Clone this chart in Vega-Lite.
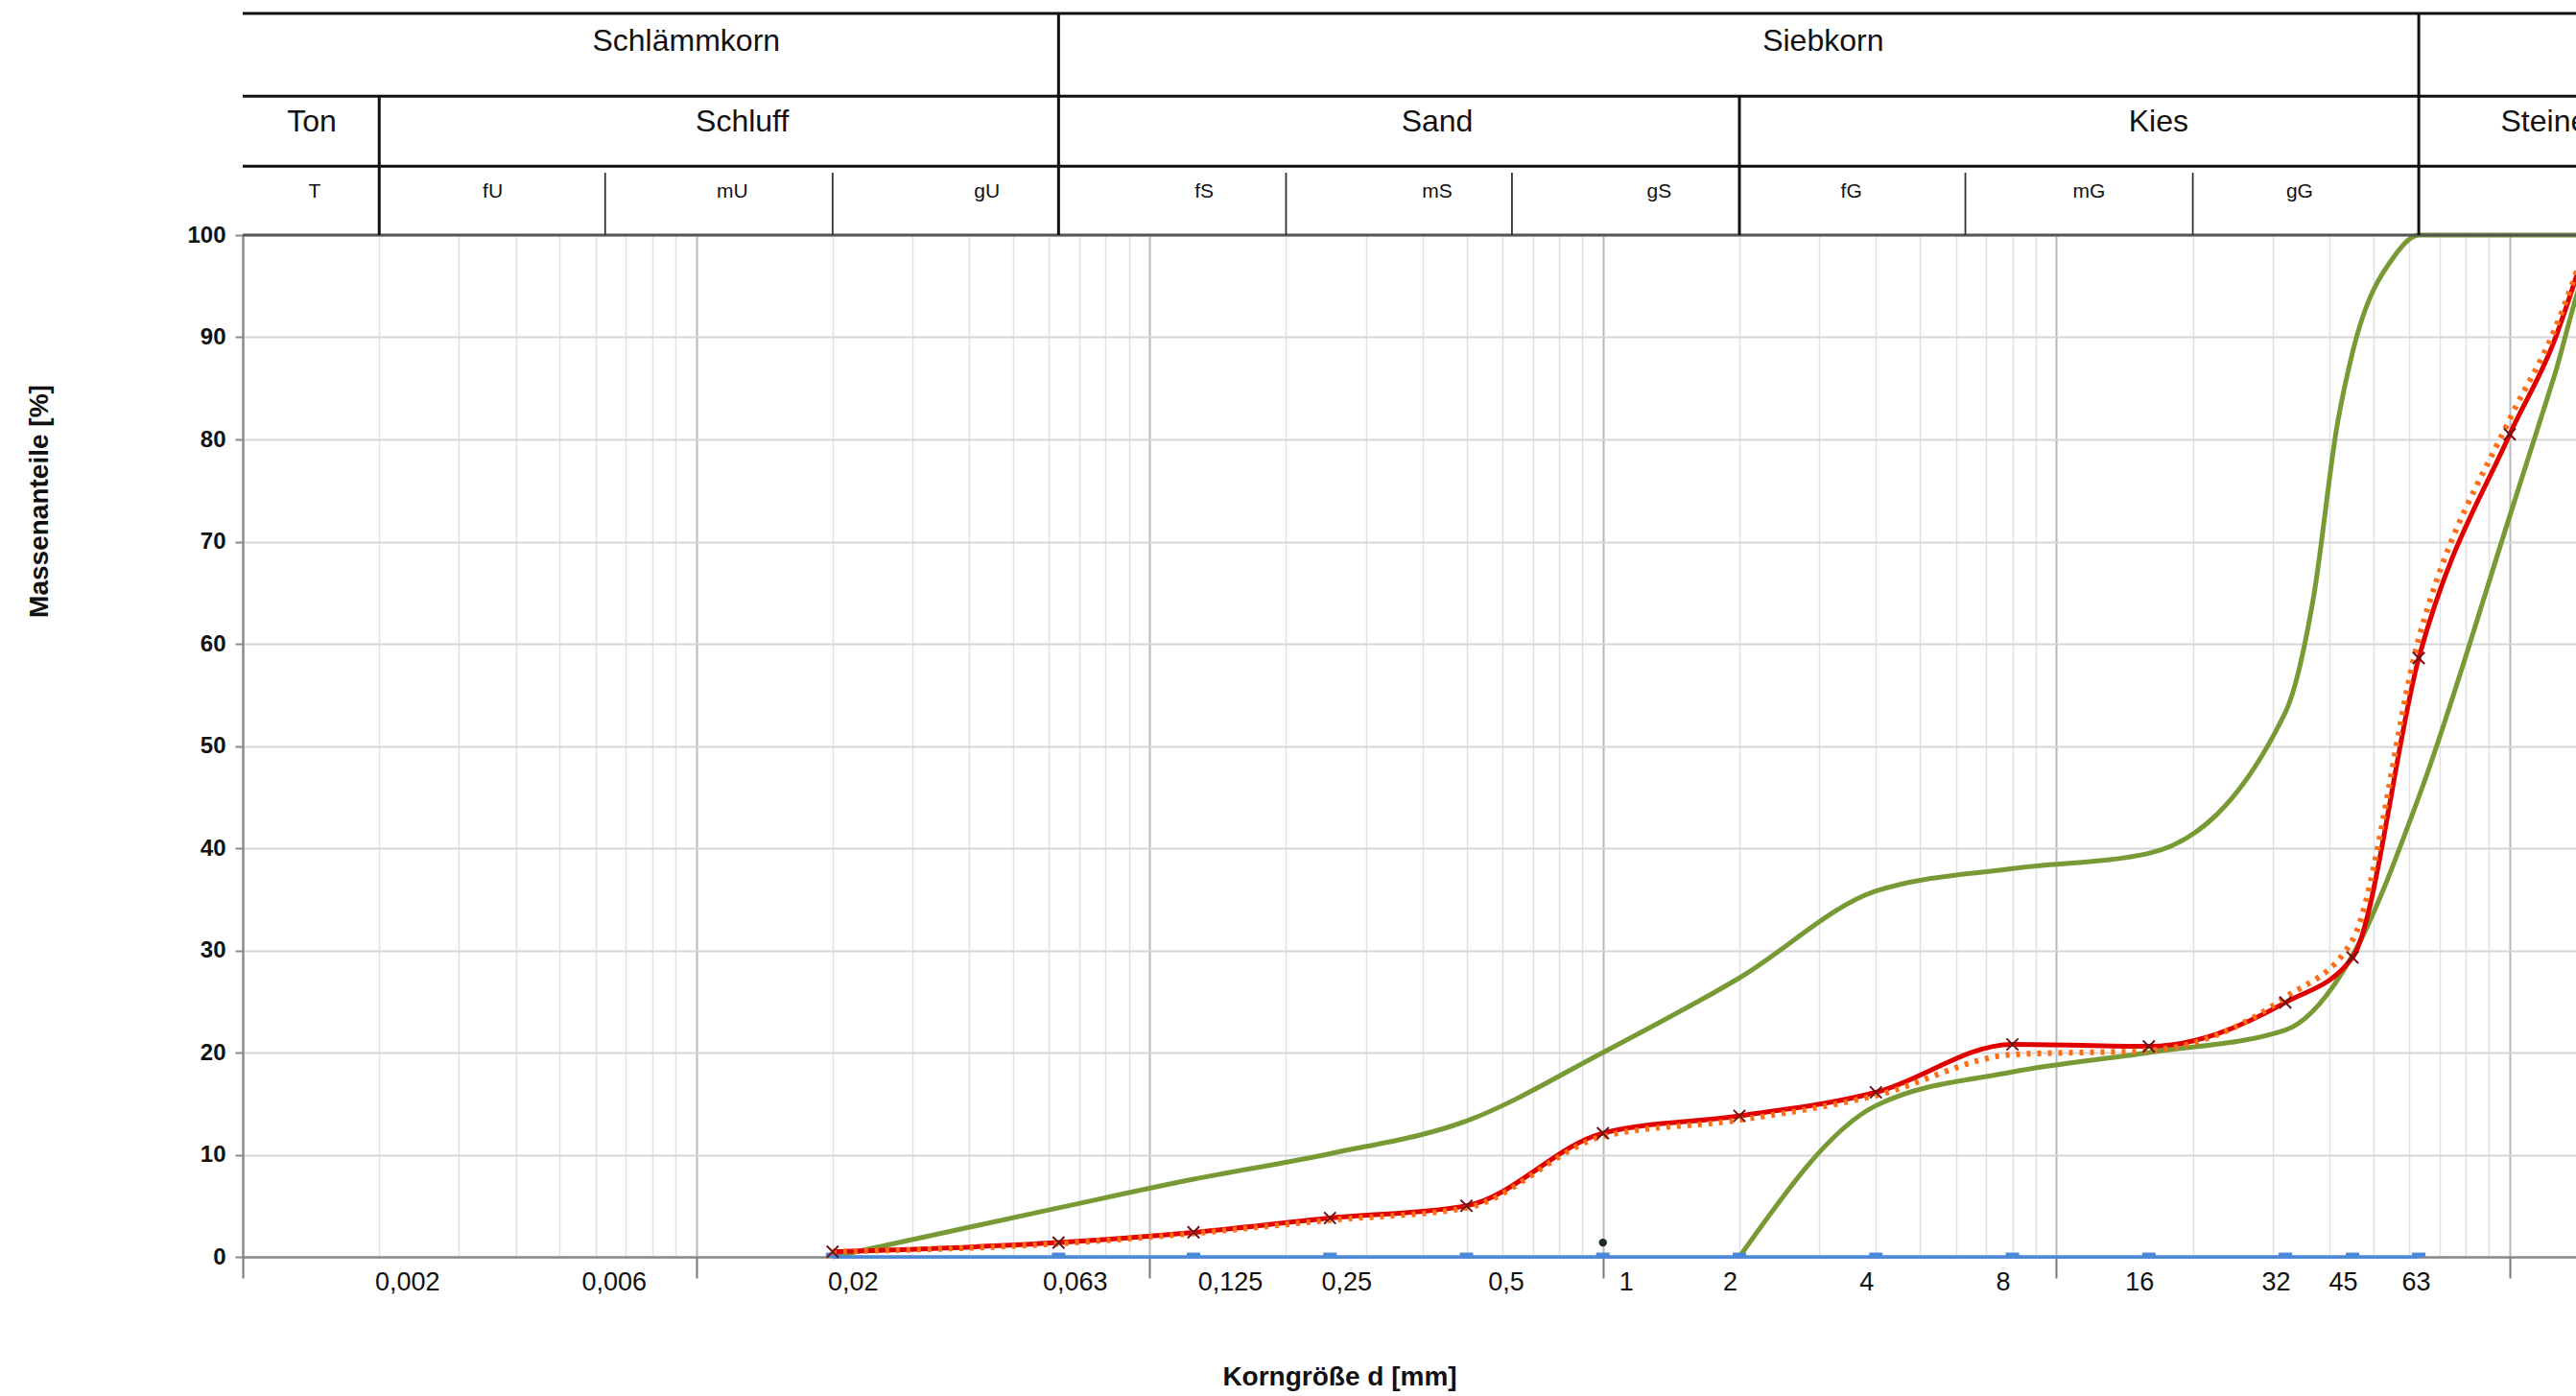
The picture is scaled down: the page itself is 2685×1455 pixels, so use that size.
{
  "$schema": "https://vega.github.io/schema/vega-lite/v6.json",
  "autosize": {"type": "none"},
  "padding": {"left": 253, "top": 245, "right": 0, "bottom": 145},
  "width": 2432,
  "height": 1065,
  "background": "white",
  "config": {"view": {"stroke": null}, "font": "Liberation Sans"},
  "datasets": {
    "kurven": [
      {"serie": "Grenzlinie oben", "d": 0.02, "p": 0},
      {"serie": "Grenzlinie oben", "d": 0.063, "p": 4.8},
      {"serie": "Grenzlinie oben", "d": 0.125, "p": 7.6},
      {"serie": "Grenzlinie oben", "d": 0.25, "p": 10.1},
      {"serie": "Grenzlinie oben", "d": 0.5, "p": 13.3},
      {"serie": "Grenzlinie oben", "d": 1, "p": 20},
      {"serie": "Grenzlinie oben", "d": 2, "p": 27.3},
      {"serie": "Grenzlinie oben", "d": 4, "p": 35.8},
      {"serie": "Grenzlinie oben", "d": 8, "p": 38},
      {"serie": "Grenzlinie oben", "d": 16, "p": 39.5},
      {"serie": "Grenzlinie oben", "d": 32, "p": 53.3},
      {"serie": "Grenzlinie oben", "d": 36.9, "p": 64.5},
      {"serie": "Grenzlinie oben", "d": 41.7, "p": 81.6},
      {"serie": "Grenzlinie oben", "d": 45, "p": 88.5},
      {"serie": "Grenzlinie oben", "d": 56, "p": 98.1},
      {"serie": "Grenzlinie oben", "d": 63, "p": 100},
      {"serie": "Grenzlinie oben", "d": 150, "p": 100},
      {"serie": "Grenzlinie unten", "d": 2, "p": 0},
      {"serie": "Grenzlinie unten", "d": 4, "p": 14.8},
      {"serie": "Grenzlinie unten", "d": 8, "p": 18.1},
      {"serie": "Grenzlinie unten", "d": 16, "p": 20},
      {"serie": "Grenzlinie unten", "d": 32, "p": 22.2},
      {"serie": "Grenzlinie unten", "d": 45, "p": 29.5},
      {"serie": "Grenzlinie unten", "d": 63, "p": 45},
      {"serie": "Grenzlinie unten", "d": 100, "p": 72.5},
      {"serie": "Grenzlinie unten", "d": 125, "p": 86},
      {"serie": "Grenzlinie unten", "d": 150, "p": 97},
      {"serie": "Grenzlinie unten", "d": 200, "p": 100},
      {"serie": "Nulllinie", "d": 0.02, "p": 0},
      {"serie": "Nulllinie", "d": 0.063, "p": 0},
      {"serie": "Nulllinie", "d": 0.125, "p": 0},
      {"serie": "Nulllinie", "d": 0.25, "p": 0},
      {"serie": "Nulllinie", "d": 0.5, "p": 0},
      {"serie": "Nulllinie", "d": 1, "p": 0},
      {"serie": "Nulllinie", "d": 2, "p": 0},
      {"serie": "Nulllinie", "d": 4, "p": 0},
      {"serie": "Nulllinie", "d": 8, "p": 0},
      {"serie": "Nulllinie", "d": 16, "p": 0},
      {"serie": "Nulllinie", "d": 32, "p": 0},
      {"serie": "Nulllinie", "d": 45, "p": 0},
      {"serie": "Nulllinie", "d": 63, "p": 0},
      {"serie": "Sieblinie", "d": 0.02, "p": 0.5},
      {"serie": "Sieblinie", "d": 0.063, "p": 1.4},
      {"serie": "Sieblinie", "d": 0.125, "p": 2.4},
      {"serie": "Sieblinie", "d": 0.25, "p": 3.8},
      {"serie": "Sieblinie", "d": 0.5, "p": 5.0},
      {"serie": "Sieblinie", "d": 1, "p": 12.1},
      {"serie": "Sieblinie", "d": 2, "p": 13.8},
      {"serie": "Sieblinie", "d": 4, "p": 16.1},
      {"serie": "Sieblinie", "d": 8, "p": 20.8},
      {"serie": "Sieblinie", "d": 16, "p": 20.6},
      {"serie": "Sieblinie", "d": 32, "p": 24.9},
      {"serie": "Sieblinie", "d": 45, "p": 29.3},
      {"serie": "Sieblinie", "d": 63, "p": 58.6},
      {"serie": "Sieblinie", "d": 100, "p": 80.5},
      {"serie": "Sieblinie", "d": 125, "p": 89.5},
      {"serie": "Sieblinie", "d": 150, "p": 100},
      {"serie": "Vergleichslinie", "d": 0.02, "p": 0.5},
      {"serie": "Vergleichslinie", "d": 0.063, "p": 1.3},
      {"serie": "Vergleichslinie", "d": 0.125, "p": 2.3},
      {"serie": "Vergleichslinie", "d": 0.25, "p": 3.6},
      {"serie": "Vergleichslinie", "d": 0.5, "p": 4.8},
      {"serie": "Vergleichslinie", "d": 1, "p": 11.8},
      {"serie": "Vergleichslinie", "d": 2, "p": 13.4},
      {"serie": "Vergleichslinie", "d": 4, "p": 15.8},
      {"serie": "Vergleichslinie", "d": 8, "p": 19.8},
      {"serie": "Vergleichslinie", "d": 16, "p": 20.2},
      {"serie": "Vergleichslinie", "d": 32, "p": 25.4},
      {"serie": "Vergleichslinie", "d": 45, "p": 31},
      {"serie": "Vergleichslinie", "d": 63, "p": 60.5},
      {"serie": "Vergleichslinie", "d": 100, "p": 82},
      {"serie": "Vergleichslinie", "d": 125, "p": 90.5},
      {"serie": "Vergleichslinie", "d": 150, "p": 100},
      {"serie": "Punkt", "d": 1, "p": 1.4}
    ],
    "kopf_grenzen": [
      {"stufe": "Kornart", "grenze": 0.063},
      {"stufe": "Kornart", "grenze": 63},
      {"stufe": "Bodenart", "grenze": 0.002},
      {"stufe": "Bodenart", "grenze": 2},
      {"stufe": "Unterteilung", "grenze": 0.0063},
      {"stufe": "Unterteilung", "grenze": 0.02},
      {"stufe": "Unterteilung", "grenze": 0.2},
      {"stufe": "Unterteilung", "grenze": 0.63},
      {"stufe": "Unterteilung", "grenze": 6.3},
      {"stufe": "Unterteilung", "grenze": 20}
    ],
    "kopf_text": [
      {"stufe": 1, "text": "Schlämmkorn", "d": 0.00951},
      {"stufe": 1, "text": "Siebkorn", "d": 3.06},
      {"stufe": 2, "text": "Ton", "d": 0.00142},
      {"stufe": 2, "text": "Schluff", "d": 0.01264},
      {"stufe": 2, "text": "Sand", "d": 0.431},
      {"stufe": 2, "text": "Kies", "d": 16.8},
      {"stufe": 4, "text": "Steine", "d": 95.5},
      {"stufe": 3, "text": "T", "d": 0.00144},
      {"stufe": 3, "text": "fU", "d": 0.00356},
      {"stufe": 3, "text": "mU", "d": 0.01202},
      {"stufe": 3, "text": "gU", "d": 0.0438},
      {"stufe": 3, "text": "fS", "d": 0.132},
      {"stufe": 3, "text": "mS", "d": 0.431},
      {"stufe": 3, "text": "gS", "d": 1.33},
      {"stufe": 3, "text": "fG", "d": 3.53},
      {"stufe": 3, "text": "mG", "d": 11.8},
      {"stufe": 3, "text": "gG", "d": 34.4}
    ]
  },
  "resolve": {"axis": {"x": "independent", "y": "independent"}},
  "layer": [
    {
      "data": {"name": "kurven"},
      "transform": [{"filter": "datum.serie == 'Grenzlinie oben'"}],
      "mark": {"type": "line", "interpolate": "monotone", "color": "#779a35", "strokeWidth": 5},
      "encoding": {
        "x": {"field": "d", "type": "quantitative", "scale": {"type": "log", "domain": [0.001, 140], "nice": false},
          "axis": {"orient": "top", "values": [0.002,0.003,0.004,0.005,0.006,0.007,0.008,0.009,0.01,0.02,0.03,0.04,0.05,0.06,0.07,0.08,0.09,0.1,0.2,0.3,0.4,0.5,0.6,0.7,0.8,0.9,1,2,3,4,5,6,7,8,9,10,20,30,40,50,60,70,80,90,100],
            "grid": true,
            "gridColor": {"condition": {"test": "indexof([0.01,0.1,1,10,100], datum.value) >= 0", "value": "#b8b8b8"}, "value": "#e2e2e2"},
            "gridWidth": {"condition": {"test": "indexof([0.01,0.1,1,10,100], datum.value) >= 0", "value": 2}, "value": 1.5},
            "domain": false, "ticks": false, "labels": false, "title": null}},
        "y": {"field": "p", "type": "quantitative", "scale": {"domain": [0, 100], "nice": false, "zero": false},
          "axis": {"orient": "left", "values": [0,10,20,30,40,50,60,70,80,90,100], "grid": true, "gridColor": "#d6d6d6", "gridWidth": 2,
            "domainColor": "#8a8a8a", "domainWidth": 2.5, "tickColor": "#8a8a8a", "tickSize": 8, "tickWidth": 2,
            "labelFont": "Liberation Sans", "labelFontSize": 24, "labelFontWeight": "bold", "labelColor": "#111111", "labelPadding": 10,
            "title": "Massenanteile [%]", "titleFont": "Liberation Sans", "titleFontSize": 28, "titleFontWeight": "bold", "titleColor": "#111111",
            "titleX": -212, "titleY": 277, "titleAngle": 270, "titleAlign": "center", "titleBaseline": "middle"}}
      }
    },
    {
      "data": {"name": "kurven"},
      "transform": [{"filter": "datum.serie == 'Grenzlinie unten'"}],
      "mark": {"type": "line", "interpolate": "monotone", "color": "#779a35", "strokeWidth": 5},
      "encoding": {
        "x": {"field": "d", "type": "quantitative", "scale": {"type": "log", "domain": [0.001, 140], "nice": false}, "axis": null},
        "y": {"field": "p", "type": "quantitative", "scale": {"domain": [0, 100], "nice": false, "zero": false}, "axis": null}
      }
    },
    {
      "data": {"name": "kurven"},
      "transform": [{"filter": "datum.serie == 'Nulllinie'"}],
      "mark": {"type": "line", "color": "#4a88dc", "strokeWidth": 3.5},
      "encoding": {
        "x": {"field": "d", "type": "quantitative", "scale": {"type": "log", "domain": [0.001, 140], "nice": false},
          "axis": {"orient": "bottom",
            "values": [0.001,0.002,0.006,0.01,0.02,0.063,0.1,0.125,0.25,0.5,1,2,4,8,10,16,32,45,63,100],
            "labelExpr": "indexof([0.002,0.006,0.02,0.063,0.125,0.25,0.5,1,2,4,8,16,32,45,63], datum.value) >= 0 ? replace(toString(datum.value), '.', ',') : ''",
            "labelOverlap": false, "labelFlush": false, "labelBound": false, "grid": false,
            "domainColor": "#8a8a8a", "domainWidth": 2.5,
            "ticks": true, "tickSize": 22, "tickWidth": 2, "tickColor": "#777777",
            "tickOpacity": {"condition": {"test": "indexof([0.001,0.01,0.1,1,10,100], datum.value) >= 0", "value": 1}, "value": 0},
            "labelFont": "Liberation Sans", "labelFontSize": 27, "labelColor": "#111111", "labelPadding": -9,
            "labelOffset": {"condition": [
              {"test": "datum.value == 0.002", "value": 29},
              {"test": "datum.value == 0.006", "value": 19},
              {"test": "datum.value == 0.02", "value": 21},
              {"test": "datum.value == 0.063 || datum.value == 0.25", "value": 17},
              {"test": "datum.value == 0.125", "value": 38},
              {"test": "datum.value == 0.5", "value": 41},
              {"test": "datum.value == 1", "value": 24},
              {"test": "datum.value == 63", "value": -3}
            ], "value": -10},
            "title": "Korngröße d [mm]", "titleFont": "Liberation Sans", "titleFontSize": 28, "titleFontWeight": "bold", "titleColor": "#111111",
            "titleX": 1143, "titleY": 125, "titleAlign": "center", "titleBaseline": "middle"}},
        "y": {"field": "p", "type": "quantitative", "scale": {"domain": [0, 100], "nice": false, "zero": false}, "axis": null}
      }
    },
    {
      "data": {"name": "kurven"},
      "transform": [{"filter": "datum.serie == 'Nulllinie'"}],
      "mark": {"type": "point", "shape": "M -1 -0.35 L 1 -0.35 L 1 0.35 L -1 0.35 Z", "filled": true, "color": "#4a88dc", "size": 196, "opacity": 1, "yOffset": -2},
      "encoding": {
        "x": {"field": "d", "type": "quantitative", "scale": {"type": "log", "domain": [0.001, 140], "nice": false}, "axis": null},
        "y": {"field": "p", "type": "quantitative", "scale": {"domain": [0, 100], "nice": false, "zero": false}, "axis": null}
      }
    },
    {
      "data": {"name": "kurven"},
      "transform": [{"filter": "datum.serie == 'Sieblinie'"}],
      "mark": {"type": "line", "interpolate": "monotone", "color": "#e00000", "strokeWidth": 5},
      "encoding": {
        "x": {"field": "d", "type": "quantitative", "scale": {"type": "log", "domain": [0.001, 140], "nice": false}, "axis": null},
        "y": {"field": "p", "type": "quantitative", "scale": {"domain": [0, 100], "nice": false, "zero": false}, "axis": null}
      }
    },
    {
      "data": {"name": "kurven"},
      "transform": [{"filter": "datum.serie == 'Vergleichslinie'"}],
      "mark": {"type": "line", "interpolate": "monotone", "color": "#ff6d14", "strokeWidth": 6, "strokeDash": [4, 7]},
      "encoding": {
        "x": {"field": "d", "type": "quantitative", "scale": {"type": "log", "domain": [0.001, 140], "nice": false}, "axis": null},
        "y": {"field": "p", "type": "quantitative", "scale": {"domain": [0, 100], "nice": false, "zero": false}, "axis": null}
      }
    },
    {
      "data": {"name": "kurven"},
      "transform": [{"filter": "datum.serie == 'Sieblinie' && datum.d <= 100"}],
      "mark": {"type": "point", "shape": "M -1 -1 L 1 1 M -1 1 L 1 -1", "filled": false, "color": "#6b1414", "strokeWidth": 2, "size": 150, "opacity": 1},
      "encoding": {
        "x": {"field": "d", "type": "quantitative", "scale": {"type": "log", "domain": [0.001, 140], "nice": false}, "axis": null},
        "y": {"field": "p", "type": "quantitative", "scale": {"domain": [0, 100], "nice": false, "zero": false}, "axis": null}
      }
    },
    {
      "data": {"name": "kurven"},
      "transform": [{"filter": "datum.serie == 'Punkt'"}],
      "mark": {"type": "point", "shape": "circle", "filled": true, "color": "#1d2b2b", "size": 70, "opacity": 1},
      "encoding": {
        "x": {"field": "d", "type": "quantitative", "scale": {"type": "log", "domain": [0.001, 140], "nice": false}, "axis": null},
        "y": {"field": "p", "type": "quantitative", "scale": {"domain": [0, 100], "nice": false, "zero": false}, "axis": null}
      }
    },
    {
      "data": {"values": [{"linie": "oben"}]},
      "mark": {"type": "rule", "color": "#111111", "strokeWidth": 3},
      "encoding": {
        "x": {"datum": 0.001, "type": "quantitative", "scale": {"type": "log", "domain": [0.001, 140], "nice": false}, "axis": null},
        "x2": {"datum": 140},
        "y": {"datum": 121.69, "type": "quantitative", "scale": {"domain": [0, 100], "nice": false, "zero": false}, "axis": null}
      }
    },
    {
      "data": {"values": [{"linie": "zeile2"}]},
      "mark": {"type": "rule", "color": "#111111", "strokeWidth": 3},
      "encoding": {
        "x": {"datum": 0.001, "type": "quantitative", "scale": {"type": "log", "domain": [0.001, 140], "nice": false}, "axis": null},
        "x2": {"datum": 140},
        "y": {"datum": 113.6, "type": "quantitative", "scale": {"domain": [0, 100], "nice": false, "zero": false}, "axis": null}
      }
    },
    {
      "data": {"values": [{"linie": "zeile3"}]},
      "mark": {"type": "rule", "color": "#111111", "strokeWidth": 3},
      "encoding": {
        "x": {"datum": 0.001, "type": "quantitative", "scale": {"type": "log", "domain": [0.001, 140], "nice": false}, "axis": null},
        "x2": {"datum": 140},
        "y": {"datum": 106.73, "type": "quantitative", "scale": {"domain": [0, 100], "nice": false, "zero": false}, "axis": null}
      }
    },
    {
      "data": {"values": [{"linie": "diagramm"}]},
      "mark": {"type": "rule", "color": "#555555", "strokeWidth": 3},
      "encoding": {
        "x": {"datum": 0.001, "type": "quantitative", "scale": {"type": "log", "domain": [0.001, 140], "nice": false}, "axis": null},
        "x2": {"datum": 140},
        "y": {"datum": 100, "type": "quantitative", "scale": {"domain": [0, 100], "nice": false, "zero": false}, "axis": null}
      }
    },
    {
      "data": {"name": "kopf_grenzen"},
      "transform": [{"filter": "datum.stufe == 'Kornart'"}],
      "mark": {"type": "rule", "color": "#111111", "strokeWidth": 3},
      "encoding": {
        "x": {"field": "grenze", "type": "quantitative", "scale": {"type": "log", "domain": [0.001, 140], "nice": false}, "axis": null},
        "y": {"datum": 100, "type": "quantitative", "scale": {"domain": [0, 100], "nice": false, "zero": false}, "axis": null},
        "y2": {"datum": 121.69}
      }
    },
    {
      "data": {"name": "kopf_grenzen"},
      "transform": [{"filter": "datum.stufe == 'Bodenart'"}],
      "mark": {"type": "rule", "color": "#111111", "strokeWidth": 3},
      "encoding": {
        "x": {"field": "grenze", "type": "quantitative", "scale": {"type": "log", "domain": [0.001, 140], "nice": false}, "axis": null},
        "y": {"datum": 100, "type": "quantitative", "scale": {"domain": [0, 100], "nice": false, "zero": false}, "axis": null},
        "y2": {"datum": 113.6}
      }
    },
    {
      "data": {"name": "kopf_grenzen"},
      "transform": [{"filter": "datum.stufe == 'Unterteilung'"}],
      "mark": {"type": "rule", "color": "#333333", "strokeWidth": 1.8},
      "encoding": {
        "x": {"field": "grenze", "type": "quantitative", "scale": {"type": "log", "domain": [0.001, 140], "nice": false}, "axis": null},
        "y": {"datum": 100, "type": "quantitative", "scale": {"domain": [0, 100], "nice": false, "zero": false}, "axis": null},
        "y2": {"datum": 106.1}
      }
    },
    {
      "data": {"name": "kopf_text"},
      "transform": [{"filter": "datum.stufe == 1"}],
      "mark": {"type": "text", "font": "Liberation Sans", "fontSize": 32, "color": "#111111", "align": "center", "baseline": "middle"},
      "encoding": {
        "x": {"field": "d", "type": "quantitative", "scale": {"type": "log", "domain": [0.001, 140], "nice": false}, "axis": null},
        "y": {"datum": 118.94, "type": "quantitative", "scale": {"domain": [0, 100], "nice": false, "zero": false}, "axis": null},
        "text": {"field": "text"}
      }
    },
    {
      "data": {"name": "kopf_text"},
      "transform": [{"filter": "datum.stufe == 2"}],
      "mark": {"type": "text", "font": "Liberation Sans", "fontSize": 32, "color": "#111111", "align": "center", "baseline": "middle"},
      "encoding": {
        "x": {"field": "d", "type": "quantitative", "scale": {"type": "log", "domain": [0.001, 140], "nice": false}, "axis": null},
        "y": {"datum": 111.1, "type": "quantitative", "scale": {"domain": [0, 100], "nice": false, "zero": false}, "axis": null},
        "text": {"field": "text"}
      }
    },
    {
      "data": {"name": "kopf_text"},
      "transform": [{"filter": "datum.stufe == 4"}],
      "mark": {"type": "text", "font": "Liberation Sans", "fontSize": 32, "color": "#111111", "align": "left", "baseline": "middle"},
      "encoding": {
        "x": {"field": "d", "type": "quantitative", "scale": {"type": "log", "domain": [0.001, 140], "nice": false}, "axis": null},
        "y": {"datum": 111.1, "type": "quantitative", "scale": {"domain": [0, 100], "nice": false, "zero": false}, "axis": null},
        "text": {"field": "text"}
      }
    },
    {
      "data": {"name": "kopf_text"},
      "transform": [{"filter": "datum.stufe == 3"}],
      "mark": {"type": "text", "font": "Liberation Sans", "fontSize": 21, "color": "#111111", "align": "center", "baseline": "middle"},
      "encoding": {
        "x": {"field": "d", "type": "quantitative", "scale": {"type": "log", "domain": [0.001, 140], "nice": false}, "axis": null},
        "y": {"datum": 104.2, "type": "quantitative", "scale": {"domain": [0, 100], "nice": false, "zero": false}, "axis": null},
        "text": {"field": "text"}
      }
    }
  ]
}
